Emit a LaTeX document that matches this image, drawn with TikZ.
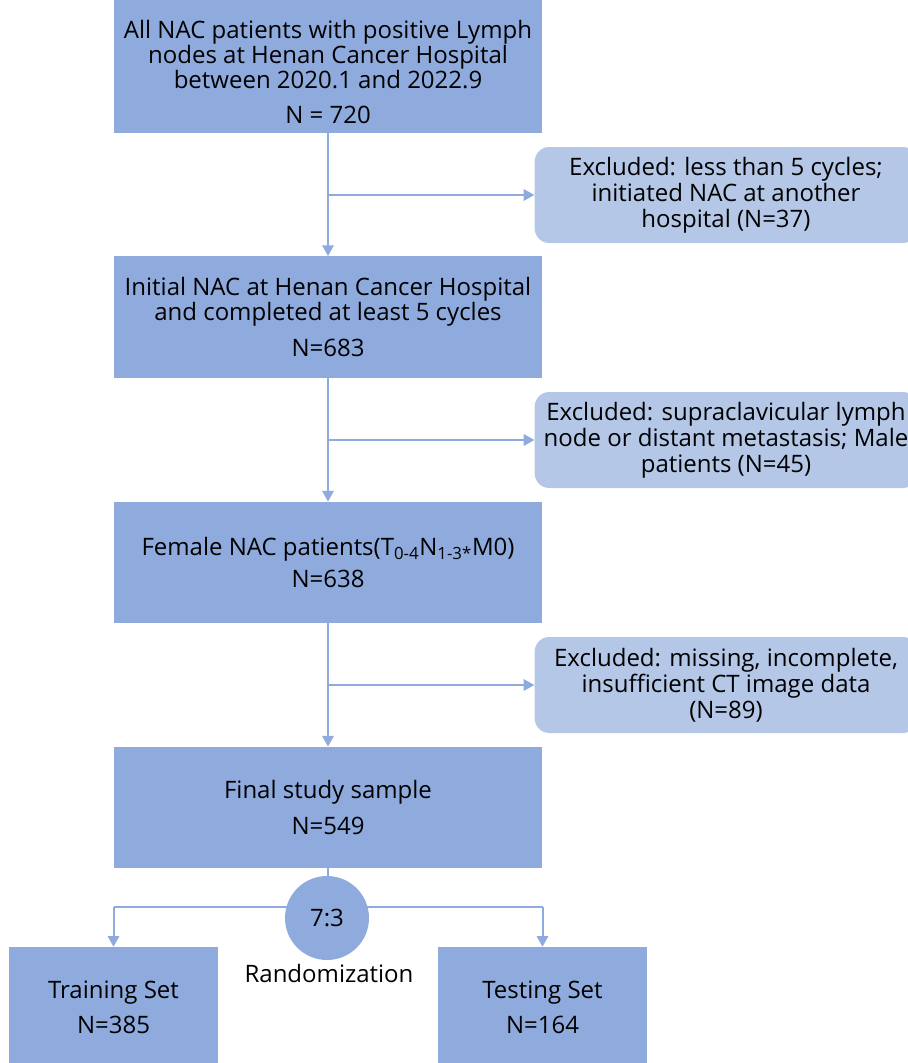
\documentclass[tikz,border=0pt]{standalone}
\usepackage{fontspec}
\setmainfont{Open Sans}
\usetikzlibrary{arrows.meta, positioning, calc}
\definecolor{BoxFill}{HTML}{8FABDD}
\definecolor{ExclFill}{HTML}{B4C7E7}
\definecolor{FlowLine}{HTML}{8FAADC}

\begin{document}
\begin{tikzpicture}[
    x=0.75pt, y=-0.75pt,
    stage/.style={
        rectangle, fill=BoxFill, minimum width=321pt,
        minimum height=#1, inner sep=0pt, align=center,
        font=\fontsize{18}{18.6}\selectfont
    },
    stage/.default={91pt},
    excl/.style={
        rectangle, rounded corners=11pt, fill=ExclFill,
        minimum width=287pt, minimum height=72pt, inner sep=0pt,
        align=center, font=\fontsize{18}{19.5}\selectfont
    },
    arm/.style={
        rectangle, fill=BoxFill, minimum width=157pt,
        minimum height=90pt, inner sep=0pt, align=center,
        font=\fontsize{18}{26}\selectfont
    },
    link/.style={draw=FlowLine, line width=1.5pt},
    arr/.style={link, -{Triangle[length=8pt, width=8.5pt]}}
]
\useasboundingbox (0,0) rectangle (907,1063);

% Main stages
\node[stage=100pt] (cohort) at (328,66.5)
    {\rule{0pt}{22pt}All NAC patients with positive Lymph\\
     nodes at Henan Cancer Hospital\\
     between 2020.1 and 2022.9\\[8pt]
     N = 720};

\node[stage] (initial) at (328,317)
    {Initial NAC at Henan Cancer Hospital\\
     and completed at least 5 cycles\\[8pt]
     N=683};

\node[stage] (female) at (328,562.5)
    {Female NAC patients(T\textsubscript{0-4}N\textsubscript{1-3*}M0)\\[6pt]
     N=638};

\node[stage] (final) at (328,807.5)
    {Final study sample\\[8pt]
     N=549};

% Exclusions
\node[excl] (exA) at (726,195)
    {Excluded: less than 5 cycles;\\
     initiated NAC at another\\
     hospital (N=37)};

\node[excl] (exB) at (726,440)
    {Excluded: supraclavicular lymph\\
     node or distant metastasis; Male\\
     patients (N=45)};

\node[excl] (exC) at (726,685)
    {Excluded: missing, incomplete,\\
     insufficient CT image data\\
     (N=89)};

% Split
\node[arm] (train) at (113.5,1007) {Training Set\\N=385};
\node[arm] (test) at (542.5,1007) {Testing Set\\N=164};
\coordinate (split) at (327,907);

% Arrows
\foreach \a/\b/\e in {cohort/initial/exA, initial/female/exB, female/final/exC} {
    \draw[arr] (\a.south) -- (\b.north);
    \draw[arr] (\e.west -| \a.south) -- (\e.west);
}
\draw[link] (final.south) -- (split -| final.south);
\draw[link] (split -| train.north) -- (split -| test.north);
\draw[arr] (split -| train.north) -- (train.north);
\draw[arr] (split -| test.north) -- (test.north);

\node[circle, fill=BoxFill, minimum size=63pt, inner sep=0pt,
      font=\fontsize{18}{18}\selectfont] (rand) at (327,918) {7:3};
\node[font=\fontsize{18}{18}\selectfont] (randlbl) at (329,973) {Randomization};

\end{tikzpicture}
\end{document}
